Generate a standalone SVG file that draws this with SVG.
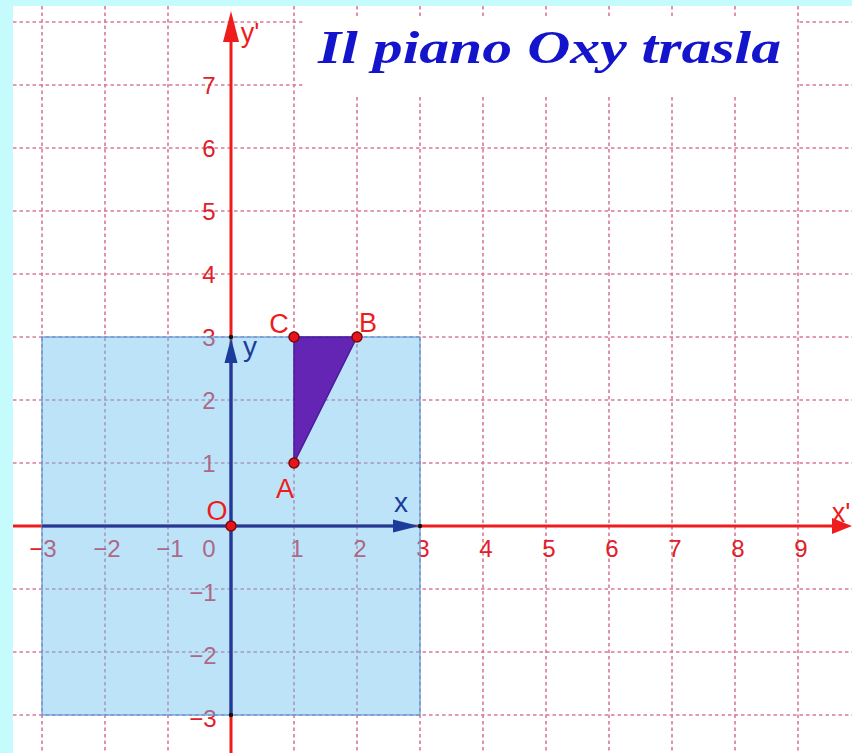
<svg xmlns="http://www.w3.org/2000/svg" width="852" height="753" viewBox="0 0 852 753">
<defs>
<style>
.grid{stroke:#d77a96;stroke-width:1.6;stroke-dasharray:3.5 3;fill:none}
.tick{font-family:"Liberation Sans",Arial,sans-serif;font-size:24px;fill:#e0202a;text-anchor:middle}
.pt{font-family:"Liberation Sans",Arial,sans-serif;font-size:27px;fill:#ee1c1c;text-anchor:middle}
.bl{font-family:"Liberation Sans",Arial,sans-serif;font-size:28px;fill:#1c3c9c;text-anchor:middle}
.dot{fill:#e8141c;stroke:#7a0a0a;stroke-width:1.5}
</style>
</defs>
<rect x="0" y="0" width="852" height="753" fill="#c6fbfd"/>
<rect x="13" y="6" width="839" height="747" fill="#ffffff"/>
<g id="grid" class="grid">
<path d="M42 6V753M105 6V753M168 6V753M294 6V753M357 6V753M420 6V753M483 6V753M546 6V753M609 6V753M672 6V753M735 6V753M798 6V753"/>
<path d="M13 22H852M13 85H852M13 148H852M13 211H852M13 274H852M13 337H852M13 400H852M13 463H852M13 589H852M13 652H852M13 715H852"/>
</g>
<rect x="303" y="17" width="494" height="78" fill="#ffffff"/>
<g id="title"><text x="318" y="63" font-family="'Liberation Serif','Times New Roman',serif" font-style="italic" font-weight="bold" font-size="46" fill="#1414cc" textLength="463" lengthAdjust="spacingAndGlyphs">Il piano Oxy trasla</text></g>
<g id="ticks" class="tick">
<text x="43" y="557">−3</text><text x="107" y="557">−2</text><text x="170" y="557">−1</text><text x="209" y="557">0</text>
<text x="297" y="557">1</text><text x="360" y="557">2</text><text x="423" y="557">3</text><text x="486" y="557">4</text><text x="549" y="557">5</text><text x="612" y="557">6</text><text x="675" y="557">7</text><text x="738" y="557">8</text><text x="801" y="557">9</text>
<text x="209" y="94">7</text><text x="209" y="157">6</text><text x="209" y="220">5</text><text x="209" y="283">4</text><text x="209" y="346">3</text><text x="209" y="409">2</text><text x="209" y="472">1</text>
<text x="203" y="601">−1</text><text x="203" y="664">−2</text><text x="203" y="727">−3</text>
</g>
<g id="connectors">
<line x1="13" y1="526" x2="834" y2="526" stroke="#ee1c1c" stroke-width="3"/>
<polygon points="852,526 832,518 832,534" fill="#ee1c1c"/>
<line x1="231" y1="753" x2="231" y2="40" stroke="#ee1c1c" stroke-width="3"/>
<polygon points="231,11 223,42 239,42" fill="#ee1c1c"/>
</g>
<g id="region"><rect x="42" y="337" width="378" height="378" fill="#6cc0f2" fill-opacity="0.45" stroke="#5a9ad8" stroke-width="1.2"/></g>
<g id="blue-axes">
<line x1="42" y1="526" x2="396" y2="526" stroke="#1c3c9c" stroke-width="3.2"/>
<polygon points="419,526 393,519.5 393,532.5" fill="#1c3c9c"/>
<line x1="231" y1="715" x2="231" y2="360" stroke="#1c3c9c" stroke-width="3.2"/>
<polygon points="231,338 224.5,363 237.5,363" fill="#1c3c9c"/>
<circle cx="420" cy="526" r="2.2" fill="#111"/>
<circle cx="231" cy="337" r="2.2" fill="#111"/>
<circle cx="231" cy="715" r="2.2" fill="#111"/>
</g>
<g id="triangle"><polygon points="294,463 357,337 294,337" fill="#6424b4" stroke="#4a1c9a" stroke-width="1.5"/></g>
<g id="point-O"><circle class="dot" cx="231" cy="526" r="5"/><text class="pt" x="217" y="520">O</text></g>
<g id="point-A"><circle class="dot" cx="294" cy="463" r="5"/><text class="pt" x="285" y="498">A</text></g>
<g id="point-B"><circle class="dot" cx="357" cy="337" r="5"/><text class="pt" x="368" y="332">B</text></g>
<g id="point-C"><circle class="dot" cx="294" cy="337" r="5"/><text class="pt" x="279" y="333">C</text></g>
<g id="labels">
<text class="bl" x="250" y="356">y</text>
<text class="bl" x="401" y="512">x</text>
<text class="pt" x="250" y="42" font-size="25">y'</text>
<text class="pt" x="841" y="522" font-size="25">x'</text>
</g>
</svg>
